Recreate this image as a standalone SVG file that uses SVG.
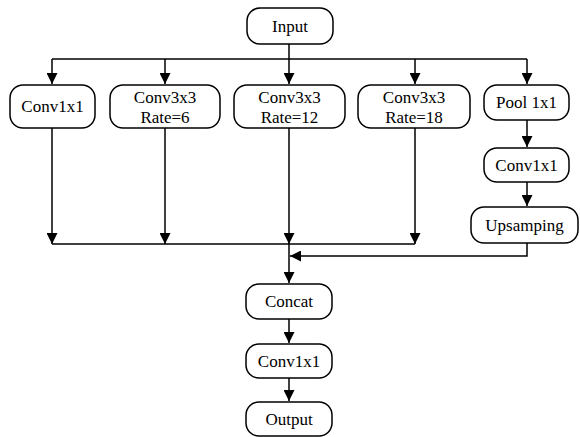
<svg xmlns="http://www.w3.org/2000/svg" width="580" height="437" viewBox="0 0 580 437">
<style>
.n rect{fill:#fff;stroke:#000;stroke-width:1.5}
.n text{font-size:17px;fill:#000;text-anchor:middle}
.c path{fill:none;stroke:#000;stroke-width:1.5}
</style>
<defs>
<marker id="a" viewBox="0 0 10 10" refX="10" refY="5" markerWidth="11" markerHeight="11" markerUnits="userSpaceOnUse" orient="auto">
<path d="M0,0 L10,5 L0,10 Z" fill="#000"/>
</marker>
</defs>
<rect width="580" height="437" fill="#fff"/>
<g class="c">
<path d="M289,44 V84" marker-end="url(#a)"/>
<path d="M52,59 H527"/>
<path d="M52,59 V84" marker-end="url(#a)"/>
<path d="M165,59 V84" marker-end="url(#a)"/>
<path d="M415,59 V84" marker-end="url(#a)"/>
<path d="M527,59 V84" marker-end="url(#a)"/>
<path d="M527,120 V147" marker-end="url(#a)"/>
<path d="M527,182 V206" marker-end="url(#a)"/>
<path d="M52,128 V244" marker-end="url(#a)"/>
<path d="M165,128 V244" marker-end="url(#a)"/>
<path d="M289,128 V244" marker-end="url(#a)"/>
<path d="M415,128 V244" marker-end="url(#a)"/>
<path d="M52,244 H415"/>
<path d="M527,243 V256 H290" marker-end="url(#a)"/>
<path d="M289,244 V283" marker-end="url(#a)"/>
<path d="M289,319 V343" marker-end="url(#a)"/>
<path d="M289,378 V401" marker-end="url(#a)"/>
</g>
<g font-family="'Liberation Serif', 'Times New Roman', serif">
<g id="input" class="n"><rect x="247" y="8" width="86" height="36" rx="13"/><text x="290" y="32">Input</text></g>
<g id="conv1" class="n"><rect x="10" y="85" width="85" height="43" rx="13"/><text x="52.5" y="112">Conv1x1</text></g>
<g id="conv6" class="n"><rect x="110" y="85" width="110" height="43" rx="13"/><text x="165" y="103">Conv3x3</text><text x="165" y="123">Rate=6</text></g>
<g id="conv12" class="n"><rect x="234" y="85" width="111" height="43" rx="13"/><text x="289.5" y="103">Conv3x3</text><text x="289.5" y="123">Rate=12</text></g>
<g id="conv18" class="n"><rect x="358" y="85" width="112" height="43" rx="13"/><text x="414" y="103">Conv3x3</text><text x="414" y="123">Rate=18</text></g>
<g id="pool" class="n"><rect x="484" y="85" width="85" height="35" rx="13"/><text x="526.5" y="108">Pool 1x1</text></g>
<g id="pconv" class="n"><rect x="484" y="148" width="85" height="34" rx="13"/><text x="526.5" y="171">Conv1x1</text></g>
<g id="up" class="n"><rect x="471" y="207" width="107" height="36" rx="13"/><text x="524.5" y="231">Upsamping</text></g>
<g id="concat" class="n"><rect x="246" y="284" width="86" height="35" rx="13"/><text x="289" y="307">Concat</text></g>
<g id="conv2" class="n"><rect x="246" y="344" width="86" height="34" rx="13"/><text x="289" y="367">Conv1x1</text></g>
<g id="output" class="n"><rect x="246" y="402" width="86" height="34" rx="13"/><text x="289" y="425">Output</text></g>
</g>
</svg>
